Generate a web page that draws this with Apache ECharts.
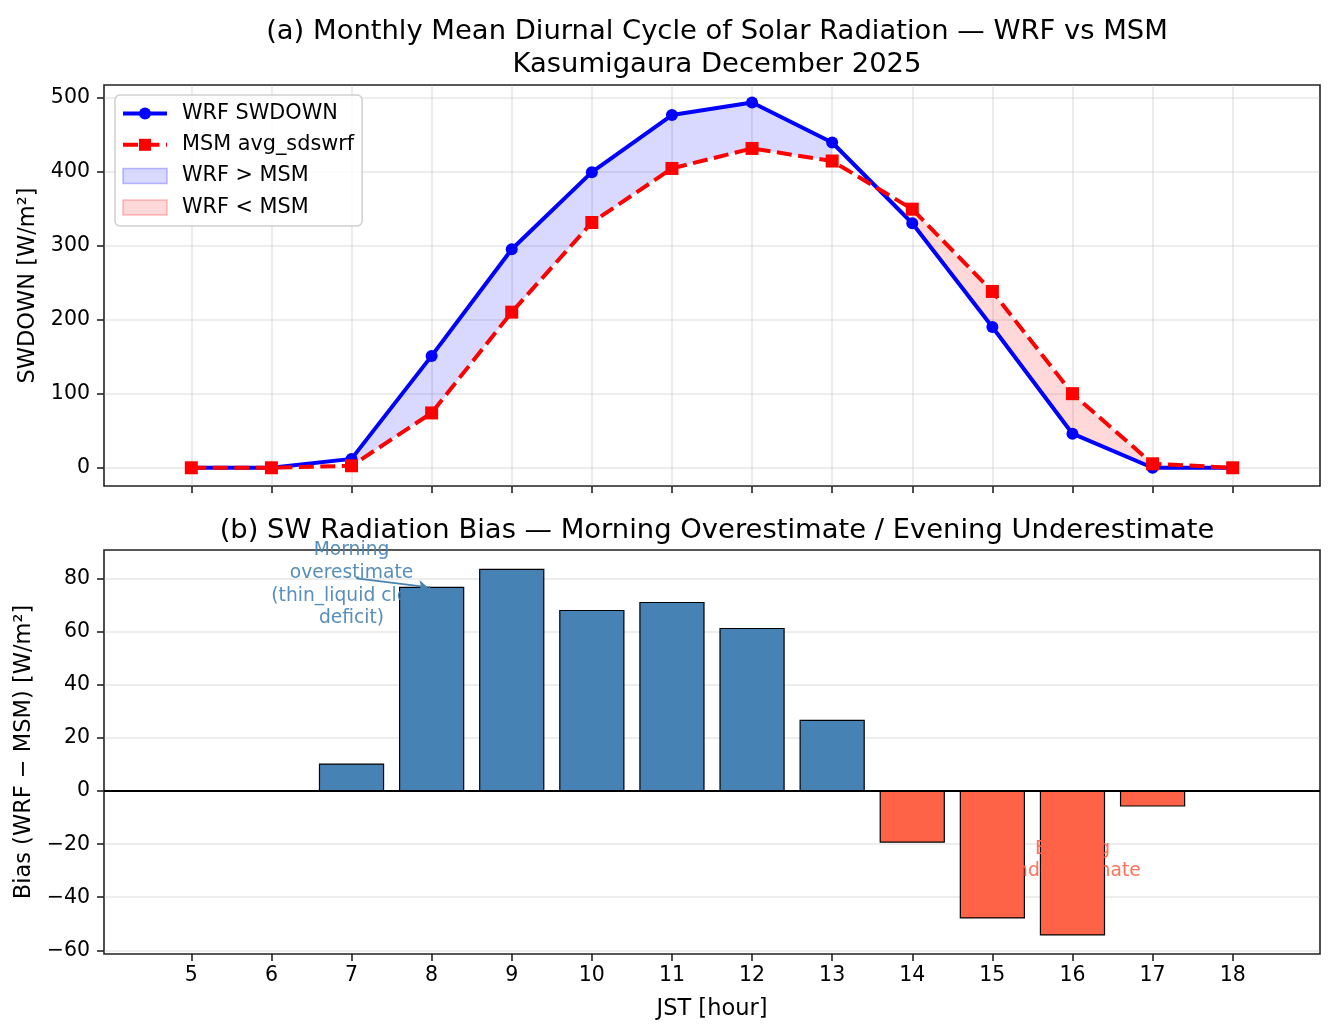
<!DOCTYPE html>
<html>
<head>
<meta charset="utf-8">
<script src="https://cdn.jsdelivr.net/npm/echarts@6/dist/echarts.min.js"></script>
<style>html,body{margin:0;padding:0;background:#fff}#chart{width:1334px;height:1035px}</style>
</head>
<body>
<div id="chart"></div>
<script>
// hourly values
const hours = [5, 6, 7, 8, 9, 10, 11, 12, 13, 14, 15, 16, 17, 18];
const wrfSw = [0, 0, 12, 151, 295, 399, 476, 493, 439, 330, 190, 46, 0, 0];
const msmSw = [0, 0, 2.7, 74, 210, 331, 404, 431, 414, 349, 238, 100, 5.4, 0];
const bias = [0, 0, 10.2, 76.8, 83.6, 68.1, 71.1, 61.3, 26.7, -19.2, -47.8, -54.2, -5.6, 0];
const swTicks = [0, 100, 200, 300, 400, 500];
const biasTicks = [-60, -40, -20, 0, 20, 40, 60, 80];

const font = 'DejaVu Sans';
const frame = '#222';
const gridCol = 'rgba(176,176,176,0.3)';
const minus = v => String(v).replace('-', '\u2212');

const chart = echarts.init(document.getElementById('chart'), null, {renderer: 'canvas'});

function fillItem(cond, color) {
	return function (params, api) {
		const i = params.dataIndex;
		if (!(cond(i) && cond(i + 1))) return null;
		const pts = [
			api.coord([hours[i], wrfSw[i]]),
			api.coord([hours[i + 1], wrfSw[i + 1]]),
			api.coord([hours[i + 1], msmSw[i + 1]]),
			api.coord([hours[i], msmSw[i]]),
		];
		return {type: 'polygon', shape: {points: pts}, style: {fill: color}};
	};
}

const segData = hours.slice(0, -1).map((h, i) => [h, wrfSw[i]]);

const xCommon = {
	type: 'value', min: 3.91, max: 19.09,
	axisLine: {show: false, onZero: false},
	axisTick: {show: true, length: 7, lineStyle: {color: frame, width: 1.6}, customValues: hours},
};

const option = {
	backgroundColor: '#fff',
	animation: false,
	textStyle: {fontFamily: font},
	title: [
		{
			text: '(a) Monthly Mean Diurnal Cycle of Solar Radiation \u2014 WRF vs MSM\nKasumigaura December 2025',
			left: 712, top: 10, textAlign: 'center',
			textStyle: {fontFamily: font, fontSize: 27.4, fontWeight: 'normal', color: '#000', lineHeight: 33},
		},
		{
			text: '(b) SW Radiation Bias \u2014 Morning Overestimate / Evening Underestimate',
			left: 712, top: 509, textAlign: 'center',
			textStyle: {fontFamily: font, fontSize: 27.4, fontWeight: 'normal', color: '#000', lineHeight: 33},
		},
	],
	grid: [
		{left: 104, width: 1216, top: 85, height: 401, show: true, borderColor: frame, borderWidth: 1.6, containLabel: false},
		{left: 104, width: 1216, top: 550, height: 404, show: true, borderColor: frame, borderWidth: 1.6, containLabel: false},
	],
	legend: {
		orient: 'vertical', left: 115, top: 95,
		itemWidth: 44, itemHeight: 15, itemGap: 10.3,
		padding: [8, 8, 8, 6],
		borderColor: '#cfcfcf', borderWidth: 1.5, borderRadius: 5,
		backgroundColor: 'rgba(255,255,255,0.8)',
		textStyle: {fontFamily: font, fontSize: 20.8, color: '#000', padding: [0, 0, 0, 10]},
		data: [
			{name: 'WRF SWDOWN', lineStyle: {width: 4}},
			{name: 'MSM avg_sdswrf', lineStyle: {width: 4}},
			{name: 'WRF > MSM', icon: 'rect', itemStyle: {color: 'rgba(0,0,255,0.15)', borderColor: 'rgba(0,0,255,0.25)', borderWidth: 1.5}},
			{name: 'WRF < MSM', icon: 'rect', itemStyle: {color: 'rgba(255,0,0,0.15)', borderColor: 'rgba(255,0,0,0.25)', borderWidth: 1.5}},
		],
	},
	xAxis: [
		Object.assign({}, xCommon, {
			gridIndex: 0,
			axisLabel: {show: false},
			splitLine: {show: true, lineStyle: {color: gridCol, width: 1.6}},
		}),
		Object.assign({}, xCommon, {
			gridIndex: 1,
			name: 'JST [hour]', nameLocation: 'middle', nameGap: 44,
			nameTextStyle: {fontFamily: font, fontSize: 22.5, color: '#000'},
			axisLabel: {show: true, customValues: hours, margin: 11, fontFamily: font, fontSize: 20.5, color: '#000'},
			splitLine: {show: false},
		}),
	],
	yAxis: [
		{
			type: 'value', gridIndex: 0, min: -24.6, max: 516.6,
			name: 'SWDOWN [W/m\u00b2]', nameLocation: 'middle', nameGap: 59,
			nameTextStyle: {fontFamily: font, fontSize: 22.5, color: '#000'},
			axisLine: {show: false, onZero: false},
			axisTick: {show: true, length: 7, lineStyle: {color: frame, width: 1.6}, customValues: swTicks},
			axisLabel: {customValues: swTicks, margin: 14, fontFamily: font, fontSize: 20.5, color: '#000'},
			splitLine: {show: true, lineStyle: {color: gridCol, width: 1.6}},
		},
		{
			type: 'value', gridIndex: 1, min: -61.4, max: 90.9,
			name: 'Bias (WRF \u2212 MSM) [W/m\u00b2]', nameLocation: 'middle', nameGap: 63,
			nameTextStyle: {fontFamily: font, fontSize: 22.5, color: '#000'},
			axisLine: {show: false, onZero: false},
			axisTick: {show: true, length: 7, lineStyle: {color: frame, width: 1.6}, customValues: biasTicks},
			axisLabel: {customValues: biasTicks, margin: 14, fontFamily: font, fontSize: 20.5, color: '#000', formatter: minus},
			splitLine: {show: true, lineStyle: {color: gridCol, width: 1.6}},
		},
	],
	series: [
		{
			name: 'WRF > MSM', type: 'custom', xAxisIndex: 0, yAxisIndex: 0, z: 1,
			itemStyle: {color: 'rgba(0,0,255,0.15)'},
			renderItem: fillItem(i => wrfSw[i] > msmSw[i], 'rgba(0,0,255,0.15)'),
			data: segData, silent: true,
		},
		{
			name: 'WRF < MSM', type: 'custom', xAxisIndex: 0, yAxisIndex: 0, z: 1,
			itemStyle: {color: 'rgba(255,0,0,0.15)'},
			renderItem: fillItem(i => wrfSw[i] < msmSw[i], 'rgba(255,0,0,0.15)'),
			data: segData, silent: true,
		},
		{
			name: 'WRF SWDOWN', type: 'line', xAxisIndex: 0, yAxisIndex: 0, z: 3,
			data: hours.map((h, i) => [h, wrfSw[i]]),
			symbol: 'circle', symbolSize: 12, showAllSymbol: true,
			lineStyle: {color: '#0000ff', width: 4},
			itemStyle: {color: '#0000ff', borderWidth: 0},
		},
		{
			name: 'MSM avg_sdswrf', type: 'line', xAxisIndex: 0, yAxisIndex: 0, z: 4,
			data: hours.map((h, i) => [h, msmSw[i]]),
			symbol: 'rect', symbolSize: 13, showAllSymbol: true,
			lineStyle: {color: '#ff0000', width: 4, type: [15, 6.5]},
			itemStyle: {color: '#ff0000', borderWidth: 0},
		},
		{
			name: 'Bias', type: 'custom', xAxisIndex: 1, yAxisIndex: 1, z: 2,
			data: hours.map((h, i) => [h, bias[i]]),
			renderItem: function (params, api) {
				const x = api.value(0), y = api.value(1);
				const p0 = api.coord([x - 0.4, y]);
				const p1 = api.coord([x + 0.4, 0]);
				return {
					type: 'rect',
					shape: {x: p0[0], y: Math.min(p0[1], p1[1]), width: p1[0] - p0[0], height: Math.abs(p1[1] - p0[1])},
					style: {fill: y >= 0 ? '#4682b4' : '#ff6347', stroke: '#000', lineWidth: 1.2},
				};
			},
			markLine: {
				silent: true, symbol: ['none', 'none'], label: {show: false},
				data: [
					{yAxis: 0, lineStyle: {color: '#000', width: 1.8, type: 'solid'}},
					[
						{coord: [7.06, 80.2], symbol: 'none', lineStyle: {color: '#4682b4', width: 1.6, type: 'solid'}},
						{coord: [7.95, 76.9], symbol: 'arrow', symbolSize: 9},
					],
				],
			},
			markPoint: {
				silent: true, symbol: 'circle', symbolSize: 0,
				data: [
					{coord: [7, 77.9], label: {formatter: 'Morning\noverestimate\n(thin_liquid cloud\ndeficit)', color: 'rgba(70,130,180,0.9)'}},
					{coord: [16, -26], label: {formatter: 'Evening\nunderestimate', color: 'rgba(255,99,71,0.9)'}},
				],
				label: {show: true, position: 'inside', fontFamily: font, fontSize: 18.7, lineHeight: 22.6, align: 'center'},
			},
		},
	],
};

chart.setOption(option);
</script>
</body>
</html>
